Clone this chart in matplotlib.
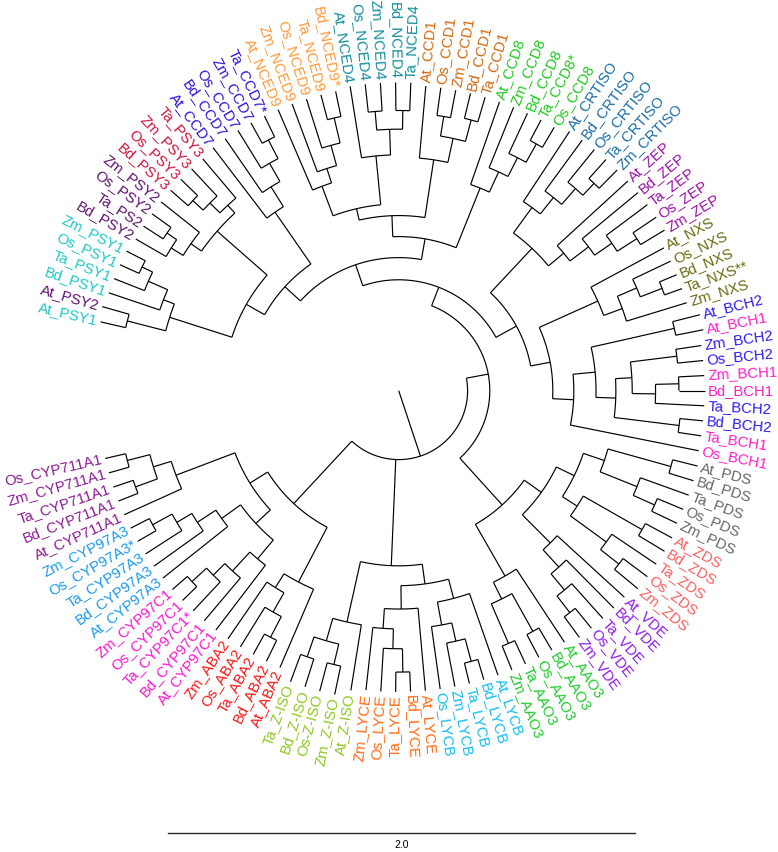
import numpy as np
import matplotlib
matplotlib.use('Agg')
from matplotlib import pyplot as plt
from matplotlib.collections import LineCollection

# Tree, one Newick string per gene family.
# The number after ':' is the distance of that node from the centre of the fan
# (in the units of the scale bar), not the branch length.
psy1 = "((At_PSY1:1.31,At_PSY2:1.32):1.20,(Bd_PSY1:1.31,(Ta_PSY1:1.31,(Os_PSY1:1.31,Zm_PSY1:1.31):1.22):1.17):1.08):1.03"
psy2 = "((Bd_PSY2:1.30,(Ta_PS2:1.30,Os_PSY2:1.30):1.20):1.15,Zm_PSY2:1.30):1.09"
psy3 = "(((Bd_PSY3:1.30,Os_PSY3:1.30):1.20,Zm_PSY3:1.30):1.14,Ta_PSY3:1.30):1.08"
ccd7 = "(At_CCD7:1.31,(Bd_CCD7:1.31,(Os_CCD7:1.31,(Zm_CCD7:1.31,Ta_CCD7*:1.31):1.21):1.12):1.03):0.93"
nced9 = "(At_NCED9:1.31,(Zm_NCED9:1.31,(Os_NCED9:1.31,(Ta_NCED9:1.31,Bd_NCED9*:1.31):1.20):1.09):1.00):0.935"
nced4 = "(At_NCED4:1.32,((Os_NCED4:1.32,Zm_NCED4:1.32):1.20,(Bd_NCED4:1.32,Ta_NCED4:1.32):1.20):1.12):1.01"
ccd1 = "(At_CCD1:1.31,((Os_CCD1:1.31,Zm_CCD1:1.31):1.19,(Bd_CCD1:1.31,Ta_CCD1:1.31):1.20):1.105):1.00"
ccd8 = "(At_CCD8:1.31,(Zm_CCD8:1.31,(Bd_CCD8:1.31,(Ta_CCD8*:1.31,Os_CCD8:1.31):1.21):1.12):1.03):0.935"
crtiso = "(At_CRTISO:1.33,(Bd_CRTISO:1.33,(Os_CRTISO:1.33,(Ta_CRTISO:1.33,Zm_CRTISO:1.33):1.22):1.15):1.06):0.97"
zep = "(At_ZEP:1.33,(Bd_ZEP:1.33,(Ta_ZEP:1.33,(Os_ZEP:1.33,Zm_ZEP:1.33):1.21):1.11):1.02):0.92"
nxs = "(At_NXS:1.29,((Os_NXS:1.29,(Bd_NXS:1.29,Ta_NXS**:1.29):1.21):1.11,Zm_NXS:1.29):1.02):0.935"
bch = ("(((At_BCH2:1.33,At_BCH1:1.33):1.21,(((Zm_BCH2:1.31,Os_BCH2:1.31):1.20,((Zm_BCH1:1.31,Bd_BCH1:1.31):1.20,"
       "Ta_BCH2:1.31):1.10):1.00,(Bd_BCH2:1.31,Ta_BCH1:1.31):1.21):0.93):0.845,Os_BCH1:1.31):0.75")
pds = "((At_PDS:1.32,Bd_PDS:1.32):1.21,(Ta_PDS:1.32,(Os_PDS:1.32,Zm_PDS:1.32):1.20):1.10):0.93"
zds = "((At_ZDS:1.33,Bd_ZDS:1.33):1.20,(Ta_ZDS:1.33,(Os_ZDS:1.33,Zm_ZDS:1.33):1.20):1.10):0.91"
vde = "(At_VDE:1.31,(Bd_VDE:1.31,(Ta_VDE:1.31,(Os_VDE:1.31,Zm_VDE:1.31):1.20):1.11):1.02):0.92"
aao3 = "(At_AAO3:1.29,((Bd_AAO3:1.29,Os_AAO3:1.29):1.18,(Ta_AAO3:1.29,Zm_AAO3:1.29):1.18):0.995):0.915"
lycb = "(At_LYCB:1.29,(((Bd_LYCB:1.29,Ta_LYCB:1.29):1.20,Zm_LYCB:1.29):1.10,Os_LYCB:1.29):1.02):0.92"
lyce = "(At_LYCE:1.29,(((Bd_LYCE:1.29,Ta_LYCE:1.29):1.205,Os_LYCE:1.29):1.105,Zm_LYCE:1.29):1.02):0.935"
ziso = "(At_Z-ISO:1.30,((Zm_Z-ISO:1.33,Os-Z-ISO:1.33):1.205,(Bd_Z-ISO:1.33,Ta_Z-ISO:1.33):1.205):1.115):1.015"
aba2 = "(At_ABA2:1.29,(((Bd_ABA2:1.29,Ta_ABA2:1.29):1.19,Os_ABA2:1.29):1.09,Zm_ABA2:1.29):0.995):0.925"
cyp97c1 = "(At_CYP97C1:1.29,(Bd_CYP97C1:1.29,(Ta_CYP97C1*:1.29,(Os_CYP97C1:1.29,Zm_CYP97C1:1.29):1.205):1.12):1.05):0.94"
cyp97a3 = "(At_CYP97A3:1.29,(Bd_CYP97A3:1.29,(Ta_CYP97A3:1.29,(Os_CYP97A3*:1.29,Zm_CYP97A3:1.29):1.20):1.105):1.03):0.935"
cyp711a1 = "(At_CYP711A1:1.29,((Bd_CYP711A1:1.29,Ta_CYP711A1:1.29):1.20,(Zm_CYP711A1:1.29,Os_CYP711A1:1.29):1.20):1.10):1.02"

# backbone joining the families
psy = f"({psy1},({psy2},{psy3}):1.035):0.75"
f_clade = f"({psy},{ccd7}):0.66"
nced = f"({nced9},{nced4}):0.80"
g1 = f"({nced},{ccd1}):0.75"
g = f"({g1},{ccd8}):0.66"
d = f"({f_clade},{g}):0.57"
h = f"({crtiso},{zep}):0.835"
i_clade = f"({nxs},{bch}):0.66"
e = f"({h},{i_clade}):0.575"
b = f"({d},{e}):0.475"
pz = f"({pds},{zds}):0.835"
c2 = f"({pz},{vde}):0.75"
c = f"({c2},{aao3}):0.66"
a = f"({b},{c}):0.39"
ll = f"({lycb},{lyce}):0.835"
bm = f"({ll},{ziso}):0.75"
cyp97 = f"({cyp97c1},{cyp97a3}):0.835"
x1 = f"({cyp97},{cyp711a1}):0.75"
bl = f"({aba2},{x1}):0.66"
tree = f"({a},{bm},{bl}):0.295"

gene_colors = {
    'PSY1': '#1ec8c8', 'PSY2': '#5e1270', 'PS2': '#5e1270', 'PSY3': '#d2123c',
    'CCD7': '#2a14dc', 'NCED9': '#ff9a3c', 'NCED4': '#138e9a', 'CCD1': '#d2690f',
    'CCD8': '#1ec81e', 'CRTISO': '#1a6da5', 'ZEP': '#9a10a8', 'NXS': '#6a6a10',
    'BCH2': '#2b1bef', 'BCH1': '#ff1fc8', 'PDS': '#666666', 'ZDS': '#ff5c5c',
    'VDE': '#8c1cf0', 'AAO3': '#1ecc2a', 'LYCB': '#12bdee', 'LYCE': '#ff6a12',
    'Z-ISO': '#8cc81e', 'ABA2': '#ff1414', 'CYP97C1': '#ff14d2', 'CYP97A3': '#1a9aef',
    'CYP711A1': '#8c1a96',
}

scale_bar_length = 2.0


def parse(s):
    pos = 0

    def node():
        nonlocal pos
        children = []
        name = ''
        if s[pos] == '(':
            pos += 1
            children.append(node())
            while s[pos] == ',':
                pos += 1
                children.append(node())
            pos += 1
        else:
            start = pos
            while s[pos] not in ':,)':
                pos += 1
            name = s[start:pos]
        r = 0.0
        if pos < len(s) and s[pos] == ':':
            pos += 1
            start = pos
            while pos < len(s) and s[pos] not in ',)':
                pos += 1
            r = float(s[start:pos])
        return {'name': name, 'children': children, 'r': r}

    return node()


root = parse(tree)

leaves = []


def collect(n):
    if not n['children']:
        leaves.append(n)
    for ch in n['children']:
        collect(ch)


collect(root)

first_angle, last_angle = 167.0, -167.0
for k, leaf in enumerate(leaves):
    leaf['a'] = first_angle + (last_angle - first_angle) * k / (len(leaves) - 1)


def set_angle(n):
    if n['children']:
        n['a'] = np.mean([set_angle(ch) for ch in n['children']])
    return n['a']


set_angle(root)


def pol(r, a):
    t = np.deg2rad(a)
    return r * np.cos(t), r * np.sin(t)


segs = []


def draw(n):
    if not n['children']:
        return
    angs = [ch['a'] for ch in n['children']]
    ts = np.linspace(min(angs), max(angs), 200)
    segs.append(np.column_stack(pol(n['r'], ts)))
    for ch in n['children']:
        segs.append([pol(n['r'], ch['a']), pol(ch['r'], ch['a'])])
        draw(ch)


segs.append([pol(0, root['a']), pol(root['r'], root['a'])])
draw(root)

W, H = 778, 852
px_per_unit = 233.5
cx, cy = 398.7, 390.7

fig = plt.figure(figsize=(W / 100, H / 100), dpi=100)
ax = fig.add_axes([0, 0, 1, 1])
ax.set_xlim(-cx / px_per_unit, (W - cx) / px_per_unit)
ax.set_ylim(-(H - cy) / px_per_unit, cy / px_per_unit)
ax.axis('off')

ax.add_collection(LineCollection(segs, colors='black', linewidths=0.85, capstyle='butt'))

gap = 0.015
for leaf in leaves:
    name = leaf['name']
    gene = name[3:].rstrip('*')
    x, y = pol(leaf['r'] + gap, leaf['a'])
    if -90 < leaf['a'] <= 90:
        rot, ha = leaf['a'], 'left'
    else:
        rot, ha = leaf['a'] - 180, 'right'
    ax.text(x, y, name, rotation=rot, rotation_mode='anchor', ha=ha, va='center',
            fontsize=10.7, color=gene_colors[gene], family='Liberation Sans')

# scale bar
bar_x0 = (168 - cx) / px_per_unit
bar_y = (cy - 833) / px_per_unit
ax.plot([bar_x0, bar_x0 + scale_bar_length], [bar_y, bar_y], color='#2a2a2a', lw=1.0)
ax.text(bar_x0 + scale_bar_length / 2, bar_y - 0.05, f'{scale_bar_length:.1f}', ha='center', va='center',
        fontsize=7.5, family='Liberation Sans')

fig.savefig('out.png', dpi=100, facecolor='white')
